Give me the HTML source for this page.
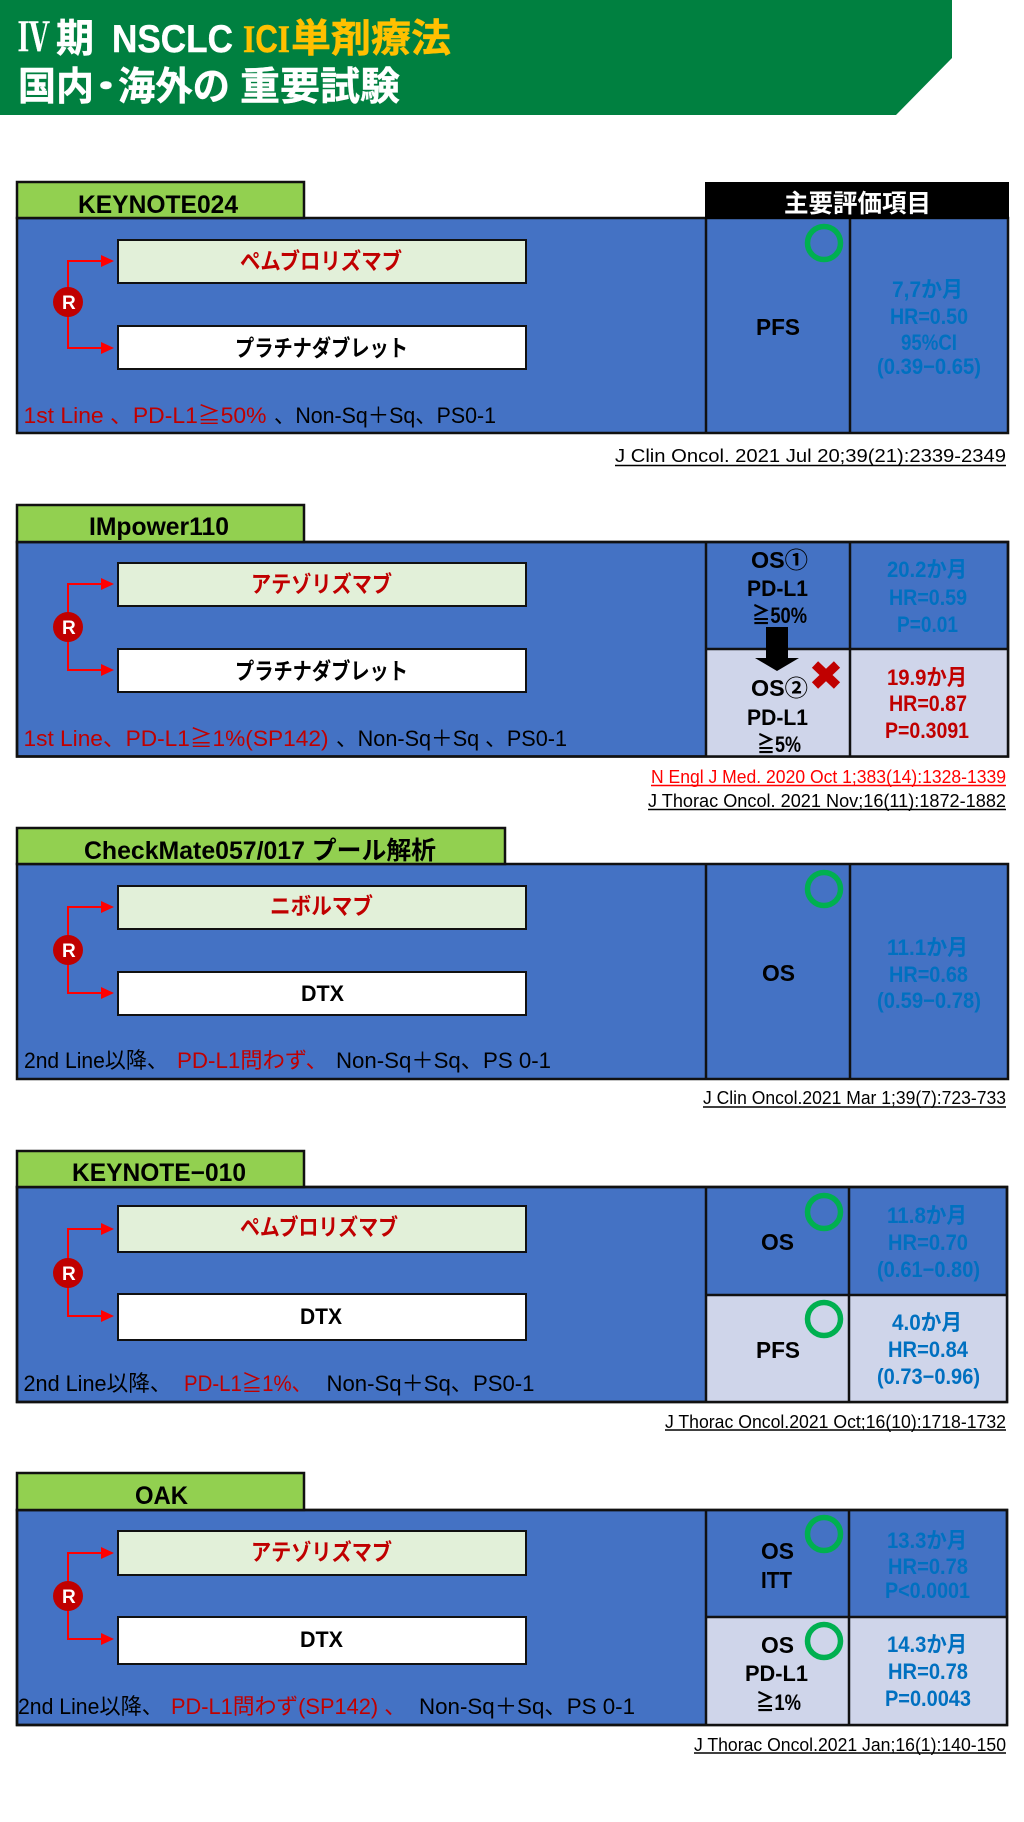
<!DOCTYPE html>
<html lang="ja"><head><meta charset="utf-8"><title>IV期 NSCLC ICI単剤療法</title>
<style>
html,body{margin:0;padding:0;background:#fff}
svg{display:block}
text{font-family:"Liberation Sans","Noto Sans CJK JP",sans-serif;white-space:pre}
.t{font-size:39px;font-weight:700;fill:#fff;stroke:#fff;stroke-width:.4}
.y{fill:#FFC000;stroke:#FFC000}
.h{font-size:25px;font-weight:700;fill:#000}
.l{font-size:22px;font-weight:700;fill:#000}
.c{font-size:23px;font-weight:700;fill:#000}
.bl{font-size:22px;font-weight:700;fill:#0070C0}
.rd{font-size:22px;font-weight:700;fill:#C00000}
.k{font-size:23px;font-weight:700}
.s{font-size:22px;fill:#000}
.sr{font-size:22px;fill:#C00000}
.ci{font-size:18px;fill:#000}
.r{font-size:19px;font-weight:700;fill:#fff}
.tab{fill:#92D050;stroke:#111;stroke-width:2.5}
.tb{fill:#4472C4;stroke:#111;stroke-width:2.5}
.lc{fill:#CFD5EA}
.ln{stroke:#111;stroke-width:2.5;fill:none}
.bg{fill:#E2F0D9;stroke:#111;stroke-width:2}
.bw{fill:#fff;stroke:#111;stroke-width:2}
.ar{stroke:#F00;stroke-width:2;fill:none}
.hd{fill:#F00}
.dot{fill:#C00000}
.ok{fill:none;stroke:#00B050;stroke-width:5.5}
</style></head><body>
<svg xmlns="http://www.w3.org/2000/svg" width="1024" height="1822" viewBox="0 0 1024 1822">
<rect width="1024" height="1822" fill="#fff"/>
<!-- banner -->
<polygon points="0,0 952,0 952,58 896,115 0,115" fill="#008040"/>
<text class="t" x="18" y="51" textLength="32" lengthAdjust="spacingAndGlyphs" style="font-family:'Noto Serif CJK SC','Liberation Serif',serif">Ⅳ</text>
<text class="t" x="56" y="52" textLength="38" lengthAdjust="spacingAndGlyphs">期</text>
<text class="t" x="112" y="52" textLength="121" lengthAdjust="spacingAndGlyphs">NSCLC</text>
<text class="t y" x="243" y="52" textLength="47" lengthAdjust="spacingAndGlyphs"><tspan style="font-family:'Liberation Serif',serif">I</tspan>C<tspan style="font-family:'Liberation Serif',serif">I</tspan></text>
<text class="t y" x="291" y="52" textLength="160" lengthAdjust="spacingAndGlyphs">単剤療法</text>
<text class="t" x="18" y="100" textLength="76" lengthAdjust="spacingAndGlyphs">国内</text>
<text class="t" x="92" y="100" textLength="28" lengthAdjust="spacingAndGlyphs">･</text>
<text class="t" x="118" y="100" textLength="112" lengthAdjust="spacingAndGlyphs">海外の</text>
<text class="t" x="240" y="100" textLength="160" lengthAdjust="spacingAndGlyphs">重要試験</text>

<!-- Table 1 -->
<rect class="tb" x="17" y="218" width="991" height="215"/>
<line class="ln" x1="706" y1="218" x2="706" y2="433"/><line class="ln" x1="850" y1="218" x2="850" y2="433"/>
<rect class="tab" x="17" y="182" width="287" height="36"/>
<rect x="705" y="182" width="304" height="37" fill="#000"/>
<text class="h" x="78" y="213" textLength="160" lengthAdjust="spacingAndGlyphs">KEYNOTE024</text>
<text class="h" x="784" y="212" textLength="147" lengthAdjust="spacingAndGlyphs" style="fill:#fff">主要評価項目</text>
<rect class="bg" x="118" y="240" width="408" height="43"/><rect class="bw" x="118" y="326" width="408" height="43"/>
<path class="ar" d="M103,261H68V348H103"/><polygon class="hd" points="101,255 114,261 101,267"/><polygon class="hd" points="101,342 114,348 101,354"/>
<circle class="dot" cx="68" cy="302" r="15"/><text class="r" x="62" y="309">R</text>
<text class="rd k" x="240" y="269" textLength="162" lengthAdjust="spacingAndGlyphs">ペムブロリズマブ</text>
<text class="l k" x="235" y="356" textLength="173" lengthAdjust="spacingAndGlyphs">プラチナダブレット</text>
<text class="sr" x="23.5" y="423" textLength="243" lengthAdjust="spacingAndGlyphs">1st Line 、PD-L1≧50%</text>
<text class="s" x="274" y="423" textLength="222" lengthAdjust="spacingAndGlyphs">、Non-Sq＋Sq、PS0-1</text>
<circle class="ok" cx="824" cy="243" r="16.5"/>
<text class="c" x="756" y="335" textLength="44" lengthAdjust="spacingAndGlyphs">PFS</text>
<text class="bl" x="892" y="297" textLength="71" lengthAdjust="spacingAndGlyphs">7,7か月</text>
<text class="bl" x="890" y="324" textLength="78" lengthAdjust="spacingAndGlyphs">HR=0.50</text>
<text class="bl" x="901" y="350" textLength="56" lengthAdjust="spacingAndGlyphs">95%CI</text>
<text class="bl" x="877" y="374" textLength="104" lengthAdjust="spacingAndGlyphs">(0.39−0.65)</text>
<text class="ci" x="615" y="462" textLength="391" lengthAdjust="spacingAndGlyphs">J Clin Oncol. 2021 Jul 20;39(21):2339-2349</text>
<line x1="615" y1="465.5" x2="1006" y2="465.5" stroke="#000" stroke-width="1.5"/>

<!-- Table 2 -->
<rect class="tb" x="17" y="542" width="991" height="214.5"/>
<rect class="lc" x="706" y="649" width="302" height="107.5"/>
<line class="ln" x1="706" y1="542" x2="706" y2="756.5"/><line class="ln" x1="850" y1="542" x2="850" y2="756.5"/><line class="ln" x1="706" y1="649" x2="1008" y2="649"/>
<rect class="ln" x="17" y="542" width="991" height="214.5"/>
<rect class="tab" x="17" y="505" width="287" height="37"/>
<text class="h" x="89" y="535" textLength="140" lengthAdjust="spacingAndGlyphs">IMpower110</text>
<rect class="bg" x="118" y="563" width="408" height="43"/><rect class="bw" x="118" y="649" width="408" height="43"/>
<path class="ar" d="M103,584H68V670H103"/><polygon class="hd" points="101,578 114,584 101,590"/><polygon class="hd" points="101,664 114,670 101,676"/>
<circle class="dot" cx="68" cy="627" r="15"/><text class="r" x="62" y="634">R</text>
<text class="rd k" x="251" y="592" textLength="141" lengthAdjust="spacingAndGlyphs">アテゾリズマブ</text>
<text class="l k" x="235" y="679" textLength="173" lengthAdjust="spacingAndGlyphs">プラチナダブレット</text>
<text class="sr" x="23.5" y="746" textLength="305" lengthAdjust="spacingAndGlyphs">1st Line、PD-L1≧1%(SP142)</text>
<text class="s" x="336" y="746" textLength="231" lengthAdjust="spacingAndGlyphs">、Non-Sq＋Sq 、PS0-1</text>
<text class="c" x="751" y="568" textLength="57" lengthAdjust="spacingAndGlyphs">OS①</text>
<text class="l" x="747" y="596" textLength="61" lengthAdjust="spacingAndGlyphs">PD-L1</text>
<text class="l" x="752" y="623" textLength="55" lengthAdjust="spacingAndGlyphs">≧50%</text>
<text class="bl" x="887" y="577" textLength="80" lengthAdjust="spacingAndGlyphs">20.2か月</text>
<text class="bl" x="889" y="605" textLength="78" lengthAdjust="spacingAndGlyphs">HR=0.59</text>
<text class="bl" x="897" y="632" textLength="61" lengthAdjust="spacingAndGlyphs">P=0.01</text>
<polygon points="766,627 788,627 788,658 799,658 777,671 755,658 766,658" fill="#000"/>
<path d="M815,664.5L837,685.5M837,664.5L815,685.5" stroke="#C00000" stroke-width="9" fill="none"/>
<text class="c" x="751" y="696" textLength="57" lengthAdjust="spacingAndGlyphs">OS②</text>
<text class="l" x="747" y="725" textLength="61" lengthAdjust="spacingAndGlyphs">PD-L1</text>
<text class="l" x="757" y="752" textLength="44" lengthAdjust="spacingAndGlyphs">≧5%</text>
<text class="rd" x="887" y="685" textLength="80" lengthAdjust="spacingAndGlyphs">19.9か月</text>
<text class="rd" x="889" y="711" textLength="78" lengthAdjust="spacingAndGlyphs">HR=0.87</text>
<text class="rd" x="885" y="738" textLength="84" lengthAdjust="spacingAndGlyphs">P=0.3091</text>
<text class="ci" x="651" y="783" textLength="355" lengthAdjust="spacingAndGlyphs" style="fill:#F00">N Engl J Med. 2020 Oct 1;383(14):1328-1339</text>
<line x1="651" y1="785.5" x2="1006" y2="785.5" stroke="#F00" stroke-width="1.5"/>
<text class="ci" x="648" y="807" textLength="358" lengthAdjust="spacingAndGlyphs">J Thorac Oncol. 2021 Nov;16(11):1872-1882</text>
<line x1="648" y1="809.5" x2="1006" y2="809.5" stroke="#000" stroke-width="1.5"/>

<!-- Table 3 -->
<rect class="tb" x="17" y="864" width="991" height="215"/>
<line class="ln" x1="706" y1="864" x2="706" y2="1079"/><line class="ln" x1="850" y1="864" x2="850" y2="1079"/>
<rect class="tab" x="17" y="828" width="488" height="36"/>
<text class="h" x="84" y="859" textLength="352" lengthAdjust="spacingAndGlyphs">CheckMate057/017 プール解析</text>
<rect class="bg" x="118" y="886" width="408" height="43"/><rect class="bw" x="118" y="972" width="408" height="43"/>
<path class="ar" d="M103,907H68V993H103"/><polygon class="hd" points="101,901 114,907 101,913"/><polygon class="hd" points="101,987 114,993 101,999"/>
<circle class="dot" cx="68" cy="950" r="15"/><text class="r" x="62" y="957">R</text>
<text class="rd k" x="270" y="914" textLength="103" lengthAdjust="spacingAndGlyphs">ニボルマブ</text>
<text class="l" x="301" y="1001" textLength="43" lengthAdjust="spacingAndGlyphs">DTX</text>
<text class="s" x="24" y="1068" textLength="144" lengthAdjust="spacingAndGlyphs">2nd Line以降、</text>
<text class="sr" x="177" y="1068" textLength="151" lengthAdjust="spacingAndGlyphs">PD-L1問わず、</text>
<text class="s" x="336" y="1068" textLength="215" lengthAdjust="spacingAndGlyphs">Non-Sq＋Sq、PS 0-1</text>
<circle class="ok" cx="824" cy="889" r="16.5"/>
<text class="c" x="762" y="981" textLength="33" lengthAdjust="spacingAndGlyphs">OS</text>
<text class="bl" x="887" y="955" textLength="81" lengthAdjust="spacingAndGlyphs">11.1か月</text>
<text class="bl" x="889" y="982" textLength="79" lengthAdjust="spacingAndGlyphs">HR=0.68</text>
<text class="bl" x="877" y="1008" textLength="104" lengthAdjust="spacingAndGlyphs">(0.59−0.78)</text>
<text class="ci" x="703" y="1104" textLength="303" lengthAdjust="spacingAndGlyphs">J Clin Oncol.2021 Mar 1;39(7):723-733</text>
<line x1="703" y1="1107" x2="1006" y2="1107" stroke="#000" stroke-width="1.5"/>

<!-- Table 4 -->
<rect class="tb" x="17" y="1187" width="990" height="215"/>
<rect class="lc" x="706" y="1295" width="301" height="107"/>
<line class="ln" x1="706" y1="1187" x2="706" y2="1402"/><line class="ln" x1="849" y1="1187" x2="849" y2="1402"/><line class="ln" x1="706" y1="1295" x2="1007" y2="1295"/>
<rect class="ln" x="17" y="1187" width="990" height="215"/>
<rect class="tab" x="17" y="1151" width="287" height="36"/>
<text class="h" x="72" y="1181" textLength="174" lengthAdjust="spacingAndGlyphs">KEYNOTE−010</text>
<rect class="bg" x="118" y="1206" width="408" height="46"/><rect class="bw" x="118" y="1294" width="408" height="46"/>
<path class="ar" d="M103,1229H68V1316H103"/><polygon class="hd" points="101,1223 114,1229 101,1235"/><polygon class="hd" points="101,1310 114,1316 101,1322"/>
<circle class="dot" cx="68" cy="1273" r="15"/><text class="r" x="62" y="1280">R</text>
<text class="rd k" x="240" y="1235" textLength="158" lengthAdjust="spacingAndGlyphs">ペムブロリズマブ</text>
<text class="l" x="300" y="1324" textLength="42" lengthAdjust="spacingAndGlyphs">DTX</text>
<text class="s" x="23.5" y="1391" textLength="148" lengthAdjust="spacingAndGlyphs">2nd Line以降、</text>
<text class="sr" x="184" y="1391" textLength="128" lengthAdjust="spacingAndGlyphs">PD-L1≧1%、</text>
<text class="s" x="326.5" y="1391" textLength="208" lengthAdjust="spacingAndGlyphs">Non-Sq＋Sq、PS0-1</text>
<circle class="ok" cx="824" cy="1212" r="16.5"/><circle class="ok" cx="824" cy="1319" r="16.5"/>
<text class="c" x="761" y="1250" textLength="33" lengthAdjust="spacingAndGlyphs">OS</text>
<text class="c" x="756" y="1358" textLength="44" lengthAdjust="spacingAndGlyphs">PFS</text>
<text class="bl" x="887" y="1223" textLength="80" lengthAdjust="spacingAndGlyphs">11.8か月</text>
<text class="bl" x="888" y="1250" textLength="80" lengthAdjust="spacingAndGlyphs">HR=0.70</text>
<text class="bl" x="877" y="1277" textLength="103" lengthAdjust="spacingAndGlyphs">(0.61−0.80)</text>
<text class="bl" x="892" y="1330" textLength="70" lengthAdjust="spacingAndGlyphs">4.0か月</text>
<text class="bl" x="888" y="1357" textLength="80" lengthAdjust="spacingAndGlyphs">HR=0.84</text>
<text class="bl" x="877" y="1384" textLength="103" lengthAdjust="spacingAndGlyphs">(0.73−0.96)</text>
<text class="ci" x="665" y="1428" textLength="341" lengthAdjust="spacingAndGlyphs">J Thorac Oncol.2021 Oct;16(10):1718-1732</text>
<line x1="665" y1="1430" x2="1006" y2="1430" stroke="#000" stroke-width="1.5"/>

<!-- Table 5 -->
<rect class="tb" x="17" y="1510" width="990" height="215"/>
<rect class="lc" x="706" y="1617" width="301" height="108"/>
<line class="ln" x1="706" y1="1510" x2="706" y2="1725"/><line class="ln" x1="849" y1="1510" x2="849" y2="1725"/><line class="ln" x1="706" y1="1617" x2="1007" y2="1617"/>
<rect class="ln" x="17" y="1510" width="990" height="215"/>
<rect class="tab" x="17" y="1473" width="287" height="37"/>
<text class="h" x="135" y="1504" textLength="53" lengthAdjust="spacingAndGlyphs">OAK</text>
<rect class="bg" x="118" y="1531" width="408" height="44"/><rect class="bw" x="118" y="1617" width="408" height="47"/>
<path class="ar" d="M103,1553H68V1639H103"/><polygon class="hd" points="101,1547 114,1553 101,1559"/><polygon class="hd" points="101,1633 114,1639 101,1645"/>
<circle class="dot" cx="68" cy="1596" r="15"/><text class="r" x="62" y="1603">R</text>
<text class="rd k" x="251" y="1560" textLength="141" lengthAdjust="spacingAndGlyphs">アテゾリズマブ</text>
<text class="l" x="300" y="1647" textLength="43" lengthAdjust="spacingAndGlyphs">DTX</text>
<text class="s" x="18" y="1714" textLength="145" lengthAdjust="spacingAndGlyphs">2nd Line以降、</text>
<text class="sr" x="171" y="1714" textLength="235" lengthAdjust="spacingAndGlyphs">PD-L1問わず(SP142) 、</text>
<text class="s" x="419" y="1714" textLength="216" lengthAdjust="spacingAndGlyphs">Non-Sq＋Sq、PS 0-1</text>
<circle class="ok" cx="824" cy="1534" r="16.5"/><circle class="ok" cx="824" cy="1641" r="16.5"/>
<text class="c" x="761" y="1559" textLength="33" lengthAdjust="spacingAndGlyphs">OS</text>
<text class="c" x="761" y="1588" textLength="31" lengthAdjust="spacingAndGlyphs">ITT</text>
<text class="c" x="761" y="1653" textLength="33" lengthAdjust="spacingAndGlyphs">OS</text>
<text class="l" x="745" y="1681" textLength="63" lengthAdjust="spacingAndGlyphs">PD-L1</text>
<text class="l" x="756" y="1710" textLength="45" lengthAdjust="spacingAndGlyphs">≧1%</text>
<text class="bl" x="887" y="1548" textLength="80" lengthAdjust="spacingAndGlyphs">13.3か月</text>
<text class="bl" x="888" y="1574" textLength="80" lengthAdjust="spacingAndGlyphs">HR=0.78</text>
<text class="bl" x="885" y="1598" textLength="85" lengthAdjust="spacingAndGlyphs">P&lt;0.0001</text>
<text class="bl" x="887" y="1652" textLength="80" lengthAdjust="spacingAndGlyphs">14.3か月</text>
<text class="bl" x="888" y="1679" textLength="80" lengthAdjust="spacingAndGlyphs">HR=0.78</text>
<text class="bl" x="885" y="1706" textLength="86" lengthAdjust="spacingAndGlyphs">P=0.0043</text>
<text class="ci" x="694" y="1751" textLength="312" lengthAdjust="spacingAndGlyphs">J Thorac Oncol.2021 Jan;16(1):140-150</text>
<line x1="694" y1="1753" x2="1006" y2="1753" stroke="#000" stroke-width="1.5"/>
</svg>
</body></html>
